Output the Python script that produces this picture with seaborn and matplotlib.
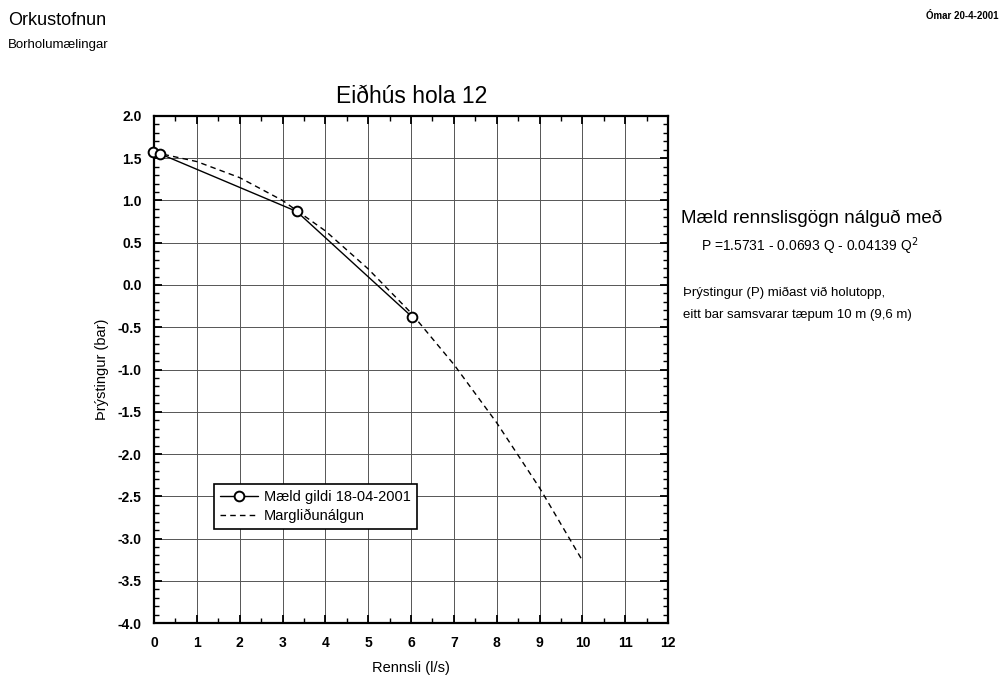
import numpy as np
import pandas as pd
import matplotlib
matplotlib.use("Agg")
import matplotlib.pyplot as plt
from matplotlib.ticker import MultipleLocator, FormatStrFormatter
import seaborn as sns

# measured flow / pressure points
rennsli_maelt = [-0.03, 0.15, 3.33, 6.03]
thrystingur_maelt = [1.57, 1.55, 0.87, -0.38]

# polynomial fit, values
rennsli_fit = [0, 1, 2, 3, 4, 5, 6, 7, 8, 9, 10]
thrystingur_fit = [1.57, 1.46, 1.27, 1.00, 0.64, 0.19, -0.33, -0.94, -1.63, -2.40, -3.26]

x_ticks = list(range(0, 13))
y_ticks = [2.0, 1.5, 1.0, 0.5, 0.0, -0.5, -1.0, -1.5, -2.0, -2.5, -3.0, -3.5, -4.0]

maelt = pd.DataFrame({'Q': rennsli_maelt, 'P': thrystingur_maelt})
fit = pd.DataFrame({'Q': rennsli_fit, 'P': thrystingur_fit})

sns.set_style('ticks')
plt.rcParams['font.family'] = ['Liberation Sans', 'DejaVu Sans']
plt.rcParams['axes.unicode_minus'] = False
plt.rcParams['text.color'] = 'black'
plt.rcParams['axes.labelcolor'] = 'black'

fig = plt.figure(figsize=(10.04, 6.78), dpi=100)
ax = fig.add_axes([0.1534, 0.081, 0.512, 0.748])

sns.lineplot(data=maelt, x='Q', y='P', ax=ax, color='black', linewidth=1.0,
             marker='o', markersize=7, markerfacecolor='white',
             markeredgecolor='black', markeredgewidth=1.4,
             label='Mæld gildi 18-04-2001', sort=False, zorder=4, clip_on=False)
sns.lineplot(data=fit, x='Q', y='P', ax=ax, color='black', linewidth=1.0,
             linestyle=(0, (4, 3)), label='Margliðunálgun', sort=False, zorder=3)

ax.set_xlim(0, 12)
ax.set_ylim(-4.0, 2.0)
ax.set_xticks(x_ticks)
ax.set_yticks(y_ticks)
ax.yaxis.set_major_formatter(FormatStrFormatter('%.1f'))
ax.xaxis.set_minor_locator(MultipleLocator(0.5))
ax.yaxis.set_minor_locator(MultipleLocator(0.1))
ax.tick_params(which='both', direction='in', top=True, right=True, colors='black',
               labelsize=10)
ax.tick_params(which='major', length=6, width=1.3)
ax.tick_params(which='minor', length=3.5, width=1.0)
ax.tick_params(axis='x', which='major', pad=9)
ax.tick_params(axis='y', which='major', pad=9)
for lbl in ax.get_xticklabels() + ax.get_yticklabels():
    lbl.set_fontweight('bold')
for s in ax.spines.values():
    s.set_linewidth(1.6)
    s.set_color('black')
ax.grid(True, which='major', color='#555555', linewidth=0.7)

ax.set_xlabel('Rennsli (l/s)', fontsize=10.5, labelpad=8)
ax.set_ylabel('Þrýstingur (bar)', fontsize=10.5, labelpad=6)

leg = ax.legend(loc='upper left', bbox_to_anchor=(0.103, 0.288), fontsize=10.5,
                frameon=True, fancybox=False, edgecolor='black', framealpha=1,
                handlelength=2.6, handletextpad=0.4, borderpad=0.4, labelspacing=0.3)
leg.get_frame().set_linewidth(1.2)

fig.text(0.41, 0.858, 'Eiðhús hola 12', ha='center', va='center', fontsize=16.5)
fig.text(0.008, 0.970, 'Orkustofnun', ha='left', va='center', fontsize=13)
fig.text(0.008, 0.934, 'Borholumælingar', ha='left', va='center', fontsize=9.5)
fig.text(0.995, 0.977, 'Ómar 20-4-2001', ha='right', va='center', fontsize=7,
         fontweight='bold')

fig.text(0.678, 0.678, 'Mæld rennslisgögn nálguð með', ha='left', va='center',
         fontsize=13.5)
fig.text(0.698, 0.637, r'P =1.5731 - 0.0693 Q - 0.04139 Q$^2$', ha='left',
         va='center', fontsize=10)
fig.text(0.680, 0.568, 'Þrýstingur (P) miðast við holutopp,', ha='left',
         va='center', fontsize=9.5)
fig.text(0.680, 0.535, 'eitt bar samsvarar tæpum 10 m (9,6 m)', ha='left',
         va='center', fontsize=9.5)

fig.savefig('out.png', dpi=100, facecolor='white')
